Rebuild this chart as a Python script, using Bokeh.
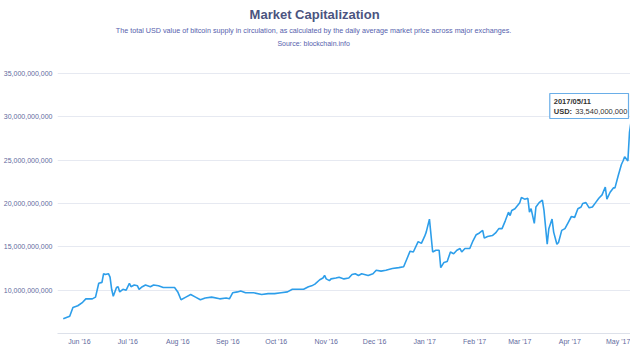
from datetime import datetime, timedelta
from bokeh.plotting import figure
from bokeh.models import (Range1d, FixedTicker, NumeralTickFormatter, DatetimeTickFormatter,
                          MonthsTicker, Label, BoxAnnotation)
from bokeh.embed import file_html
from bokeh.resources import INLINE

# ---------------- data ----------------
dates = [
    "2016-05-22", "2016-05-26", "2016-05-28", "2016-05-31", "2016-06-03", "2016-06-05",
    "2016-06-09", "2016-06-11", "2016-06-13", "2016-06-15", "2016-06-16", "2016-06-17",
    "2016-06-19", "2016-06-20", "2016-06-21", "2016-06-22", "2016-06-24", "2016-06-25",
    "2016-06-26", "2016-06-28", "2016-06-30", "2016-07-02", "2016-07-03", "2016-07-05",
    "2016-07-07", "2016-07-08", "2016-07-10", "2016-07-12", "2016-07-15", "2016-07-17",
    "2016-07-20", "2016-07-23", "2016-07-26", "2016-07-30", "2016-08-01", "2016-08-03",
    "2016-08-06", "2016-08-09", "2016-08-12", "2016-08-15", "2016-08-18", "2016-08-22",
    "2016-08-27", "2016-08-31", "2016-09-02", "2016-09-04", "2016-09-07", "2016-09-09",
    "2016-09-12", "2016-09-17", "2016-09-22", "2016-09-26", "2016-09-30", "2016-10-04",
    "2016-10-08", "2016-10-11", "2016-10-14", "2016-10-18", "2016-10-21", "2016-10-23",
    "2016-10-25", "2016-10-28", "2016-10-30", "2016-10-31", "2016-11-01", "2016-11-03",
    "2016-11-04", "2016-11-07", "2016-11-09", "2016-11-12", "2016-11-15", "2016-11-17",
    "2016-11-19", "2016-11-21", "2016-11-23", "2016-11-27", "2016-11-30", "2016-12-02",
    "2016-12-05", "2016-12-08", "2016-12-12", "2016-12-16", "2016-12-19", "2016-12-21",
    "2016-12-23", "2016-12-25", "2016-12-28", "2016-12-30", "2017-01-01", "2017-01-02",
    "2017-01-04", "2017-01-06", "2017-01-08", "2017-01-10", "2017-01-11", "2017-01-13",
    "2017-01-15", "2017-01-17", "2017-01-19", "2017-01-21", "2017-01-23", "2017-01-24",
    "2017-01-26", "2017-01-29", "2017-01-31", "2017-02-02", "2017-02-04", "2017-02-06",
    "2017-02-07", "2017-02-09", "2017-02-12", "2017-02-14", "2017-02-16", "2017-02-18",
    "2017-02-20", "2017-02-22", "2017-02-23", "2017-02-24", "2017-02-26", "2017-03-01",
    "2017-03-02", "2017-03-04", "2017-03-06", "2017-03-07", "2017-03-08", "2017-03-10",
    "2017-03-11", "2017-03-13", "2017-03-15", "2017-03-16", "2017-03-18", "2017-03-19",
    "2017-03-21", "2017-03-22", "2017-03-24", "2017-03-25", "2017-03-27", "2017-03-29",
    "2017-03-31", "2017-04-02", "2017-04-04", "2017-04-06", "2017-04-08", "2017-04-09",
    "2017-04-11", "2017-04-13", "2017-04-15", "2017-04-17", "2017-04-19", "2017-04-21",
    "2017-04-23", "2017-04-24", "2017-04-26", "2017-04-28", "2017-04-29", "2017-05-01",
    "2017-05-03", "2017-05-04", "2017-05-05", "2017-05-07", "2017-05-08", "2017-05-09",
    "2017-05-10", "2017-05-11",
]
cap_billion_usd = [
    6.7, 7.0, 8.0, 8.2, 8.6, 9.0,
    9.0, 9.2, 10.8, 10.9, 11.9, 11.8,
    11.9, 11.5, 10.1, 9.3, 10.3, 10.4,
    9.8, 10.1, 10.0, 10.8, 10.4, 10.6,
    10.5, 10.1, 10.4, 10.6, 10.4, 10.6,
    10.5, 10.3, 10.3, 10.3, 9.8, 8.9,
    9.2, 9.5, 9.2, 8.9, 9.1, 9.2,
    9.0, 9.1, 9.0, 9.7, 9.8, 9.9,
    9.7, 9.7, 9.5, 9.6, 9.6, 9.7,
    9.8, 10.1, 10.1, 10.1, 10.4, 10.5,
    10.7, 11.2, 11.4, 11.7, 11.3, 11.1,
    11.3, 11.4, 11.5, 11.3, 11.4, 11.8,
    11.9, 11.7, 11.9, 11.7, 11.9, 12.3,
    12.2, 12.3, 12.5, 12.6, 12.7, 13.6,
    14.5, 14.4, 15.6, 15.4, 16.2, 16.7,
    18.2, 14.4, 14.6, 14.6, 12.6, 13.2,
    13.3, 14.4, 14.2, 14.6, 14.8, 14.4,
    14.8, 14.8, 15.7, 16.4, 16.6, 16.9,
    16.0, 16.2, 16.3, 16.6, 17.1, 17.1,
    18.0, 19.0, 18.6, 19.2, 19.4, 20.1,
    20.7, 20.5, 20.6, 19.0, 19.4, 17.7,
    19.6, 20.1, 20.4, 19.2, 15.3, 17.1,
    18.2, 16.7, 15.3, 15.5, 16.9, 17.1,
    17.8, 18.5, 18.4, 19.4, 19.6, 20.0,
    20.1, 19.5, 19.6, 20.1, 20.6, 21.0,
    21.9, 20.5, 21.3, 21.8, 21.8, 23.2,
    24.5, 24.9, 25.4, 24.9, 28.2, 29.5,
    31.4, 33.54,
]
y_tick_billions = [10, 15, 20, 25, 30, 35]

title_text = "Market Capitalization"
subtitle_text = ("The total USD value of bitcoin supply in circulation, as calculated by the "
                 "daily average market price across major exchanges.")
source_text = "Source: blockchain.info"
tooltip_date = "2017/05/11"
tooltip_label = "USD:"
tooltip_value = "33,540,000,000"

# ---------------- layout ----------------
W, H = 630, 355
LEFT = 55            # room for the y-axis labels
BOTTOM = 22          # room for the x-axis labels
FRAME_W = W - LEFT
FRAME_H = H - BOTTOM

X0 = datetime(2016, 5, 18, 10, 20)
SPAN_DAYS = 355.2
X1 = X0 + timedelta(days=SPAN_DAYS)
Y0 = 5e9
PX_PER_USD = 260 / 30e9                  # 30 bn between the 5 bn and 35 bn lines
Y1 = Y0 + FRAME_H / PX_PER_USD           # free room above for the titles

def xpos(px):
    """page x pixel -> date (annotation placement)"""
    return X0 + timedelta(days=(px - LEFT) / FRAME_W * SPAN_DAYS)

def ypos(py):
    """page y pixel -> value (annotation placement)"""
    return Y0 + (FRAME_H - py) / PX_PER_USD

x = [datetime.strptime(d, "%Y-%m-%d") for d in dates]
y = [v * 1e9 for v in cap_billion_usd]

FONT = "Liberation Sans"
AXIS_TEXT = "#5f6a9e"

p = figure(width=W, height=H, x_axis_type="datetime",
           x_range=Range1d(X0, X1), y_range=Range1d(Y0, Y1),
           output_backend="svg", toolbar_location=None,
           min_border_left=LEFT, min_border_right=0, min_border_top=0,
           min_border_bottom=BOTTOM)
p.outline_line_color = None
p.background_fill_color = "white"
p.border_fill_color = "white"

p.xgrid.visible = False
p.ygrid.grid_line_color = "#e6e9f1"
p.ygrid.grid_line_width = 1

ya = p.yaxis[0]
ya.ticker = FixedTicker(ticks=[v * 1e9 for v in y_tick_billions])
ya.formatter = NumeralTickFormatter(format="0,0")
ya.axis_line_color = None
ya.major_tick_line_color = None
ya.minor_tick_line_color = None
ya.major_tick_out = 0
ya.minor_tick_out = 0
ya.axis_label_standoff = 0
ya.major_label_standoff = 5
ya.major_label_text_font = FONT
ya.major_label_text_font_size = "7px"
ya.major_label_text_color = AXIS_TEXT

xa = p.xaxis[0]
xa.ticker = MonthsTicker(months=list(range(12)))
xa.formatter = DatetimeTickFormatter(months="%b '%y", days="%b '%y")
xa.axis_line_color = "#dde1ea"
xa.major_tick_line_color = None
xa.minor_tick_line_color = None
xa.major_tick_out = 0
xa.minor_tick_out = 0
xa.axis_label_standoff = 0
xa.major_label_standoff = 4
xa.major_label_text_font = FONT
xa.major_label_text_font_size = "7px"
xa.major_label_text_color = AXIS_TEXT

p.line(x, y, line_color="#2d9eea", line_width=1.6)

# titles
p.add_layout(Label(x=xpos(313), y=ypos(14), text=title_text, text_font=FONT,
                   text_font_size="13px", text_font_style="bold", text_color="#4b5480",
                   text_align="center", text_baseline="middle"))
p.add_layout(Label(x=xpos(312), y=ypos(29.5), text=subtitle_text, text_font=FONT,
                   text_font_size="7.2px", text_color="#5661ad",
                   text_align="center", text_baseline="middle"))
p.add_layout(Label(x=xpos(312), y=ypos(43), text=source_text, text_font=FONT,
                   text_font_size="7px", text_color="#5661ad",
                   text_align="center", text_baseline="middle"))

# tooltip
p.add_layout(BoxAnnotation(left=xpos(549), right=xpos(628), top=ypos(93), bottom=ypos(118),
                           fill_color="white", fill_alpha=0.92, line_color="#6aaee8",
                           line_width=1.2, line_alpha=1.0))
p.add_layout(Label(x=xpos(553), y=ypos(101), text=tooltip_date, text_font=FONT,
                   text_font_size="7.5px", text_font_style="bold", text_color="#333333",
                   text_baseline="middle"))
p.add_layout(Label(x=xpos(553), y=ypos(110.5), text=tooltip_label, text_font=FONT,
                   text_font_size="7.5px", text_font_style="bold", text_color="#333333",
                   text_baseline="middle"))
p.add_layout(Label(x=xpos(574.5), y=ypos(110.5), text=tooltip_value, text_font=FONT,
                   text_font_size="7.5px", text_color="#333333", text_baseline="middle"))

open("out.html", "w").write(file_html(p, INLINE))
